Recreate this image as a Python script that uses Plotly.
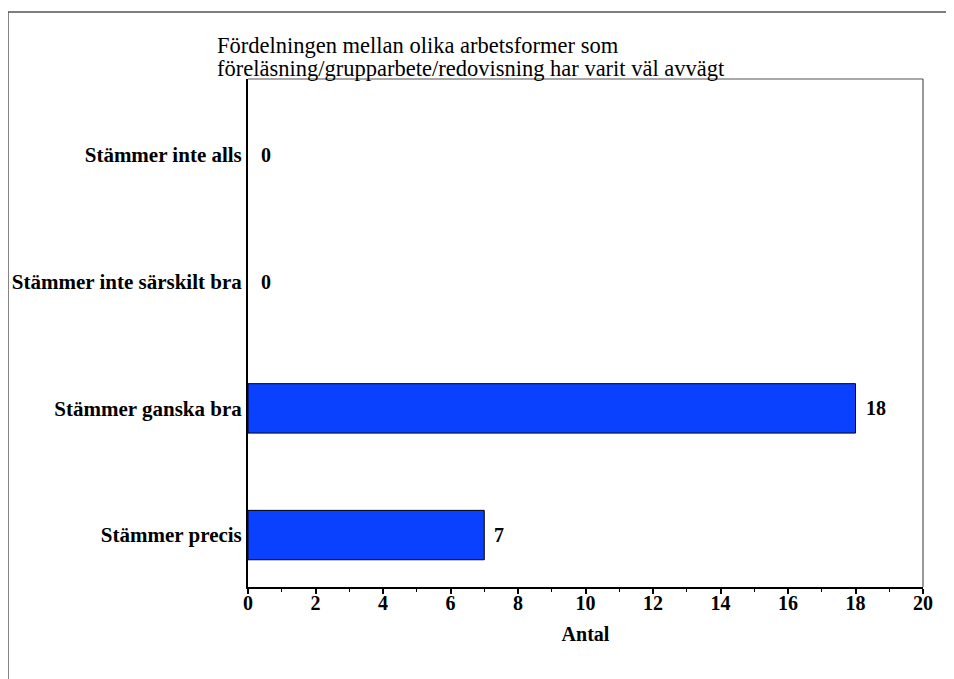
import plotly.graph_objects as go

categories = ["Stämmer inte alls", "Stämmer inte särskilt bra", "Stämmer ganska bra", "Stämmer precis"]
values = [0, 0, 18, 7]
title_lines = ["Fördelningen mellan olika arbetsformer som",
               "föreläsning/grupparbete/redovisning har varit väl avvägt"]
x_title = "Antal"
major_ticks = list(range(0, 21, 2))

FONT = "Liberation Serif"

fig = go.Figure()
fig.add_trace(go.Bar(
    x=values, y=categories, orientation="h",
    marker=dict(color="#0A40FF",
                line=dict(color="black", width=[0 if v == 0 else 1 for v in values])),
    width=0.39, hoverinfo="skip",
))

annotations = []
for c, v in zip(categories, values):
    annotations.append(dict(
        x=v, y=c, xref="x", yref="y", text=f"<b>{v}</b>", showarrow=False,
        xanchor="left", yanchor="middle", xshift=8 if v else 11,
        font=dict(family=FONT, size=20, color="black"),
    ))
for i, line in enumerate(title_lines):
    annotations.append(dict(
        x=-0.049, y=1.0, xref="paper", yref="paper", xanchor="left", yanchor="bottom",
        text=line, showarrow=False, align="left", yshift=-4 + (1 - i) * 23,
        font=dict(family=FONT, size=22.5, color="black"),
    ))

fig.update_layout(
    width=946, height=671,
    margin=dict(l=240, r=31, t=71, b=92, autoexpand=False),
    paper_bgcolor="white", plot_bgcolor="white",
    showlegend=False,
    annotations=annotations,
    font=dict(family=FONT, color="black"),
    shapes=[
        dict(type="rect", xref="paper", yref="paper", x0=-0.3556, x1=2.0, y0=-1.0, y1=1.1319,
             line=dict(color="#555555", width=1.5), layer="below"),
        dict(type="line", xref="paper", yref="paper", x0=0, x1=1, y0=1, y1=1,
             line=dict(color="#555555", width=1.2)),
        dict(type="line", xref="paper", yref="paper", x0=1, x1=1, y0=0, y1=1,
             line=dict(color="#555555", width=1.2)),
    ],
)
fig.update_xaxes(
    range=[0, 20], tickvals=major_ticks, ticktext=[f"<b>{t}</b>" for t in major_ticks],
    ticks="outside", ticklen=5, tickwidth=1.5, tickcolor="black",
    minor=dict(dtick=1, ticks="outside", ticklen=3, tickcolor="black", tickwidth=1.2),
    showline=True, linecolor="black", linewidth=2, showgrid=False, zeroline=False,
    tickfont=dict(family=FONT, size=20, color="black"), ticklabelstandoff=-8,
    automargin=False,
    title=dict(text=f"<b>{x_title}</b>", font=dict(family=FONT, size=20, color="black"), standoff=14),
)
fig.update_yaxes(
    categoryorder="array", categoryarray=categories[::-1], range=[-0.41, 3.6],
    ticktext=[f"<b>{c}</b>" for c in categories], tickvals=categories,
    ticks="", showline=True, linecolor="black", linewidth=2, showgrid=False,
    tickfont=dict(family=FONT, size=21, color="black"), ticklabelstandoff=0,
    automargin=False,
)

fig.write_html("out.html")
